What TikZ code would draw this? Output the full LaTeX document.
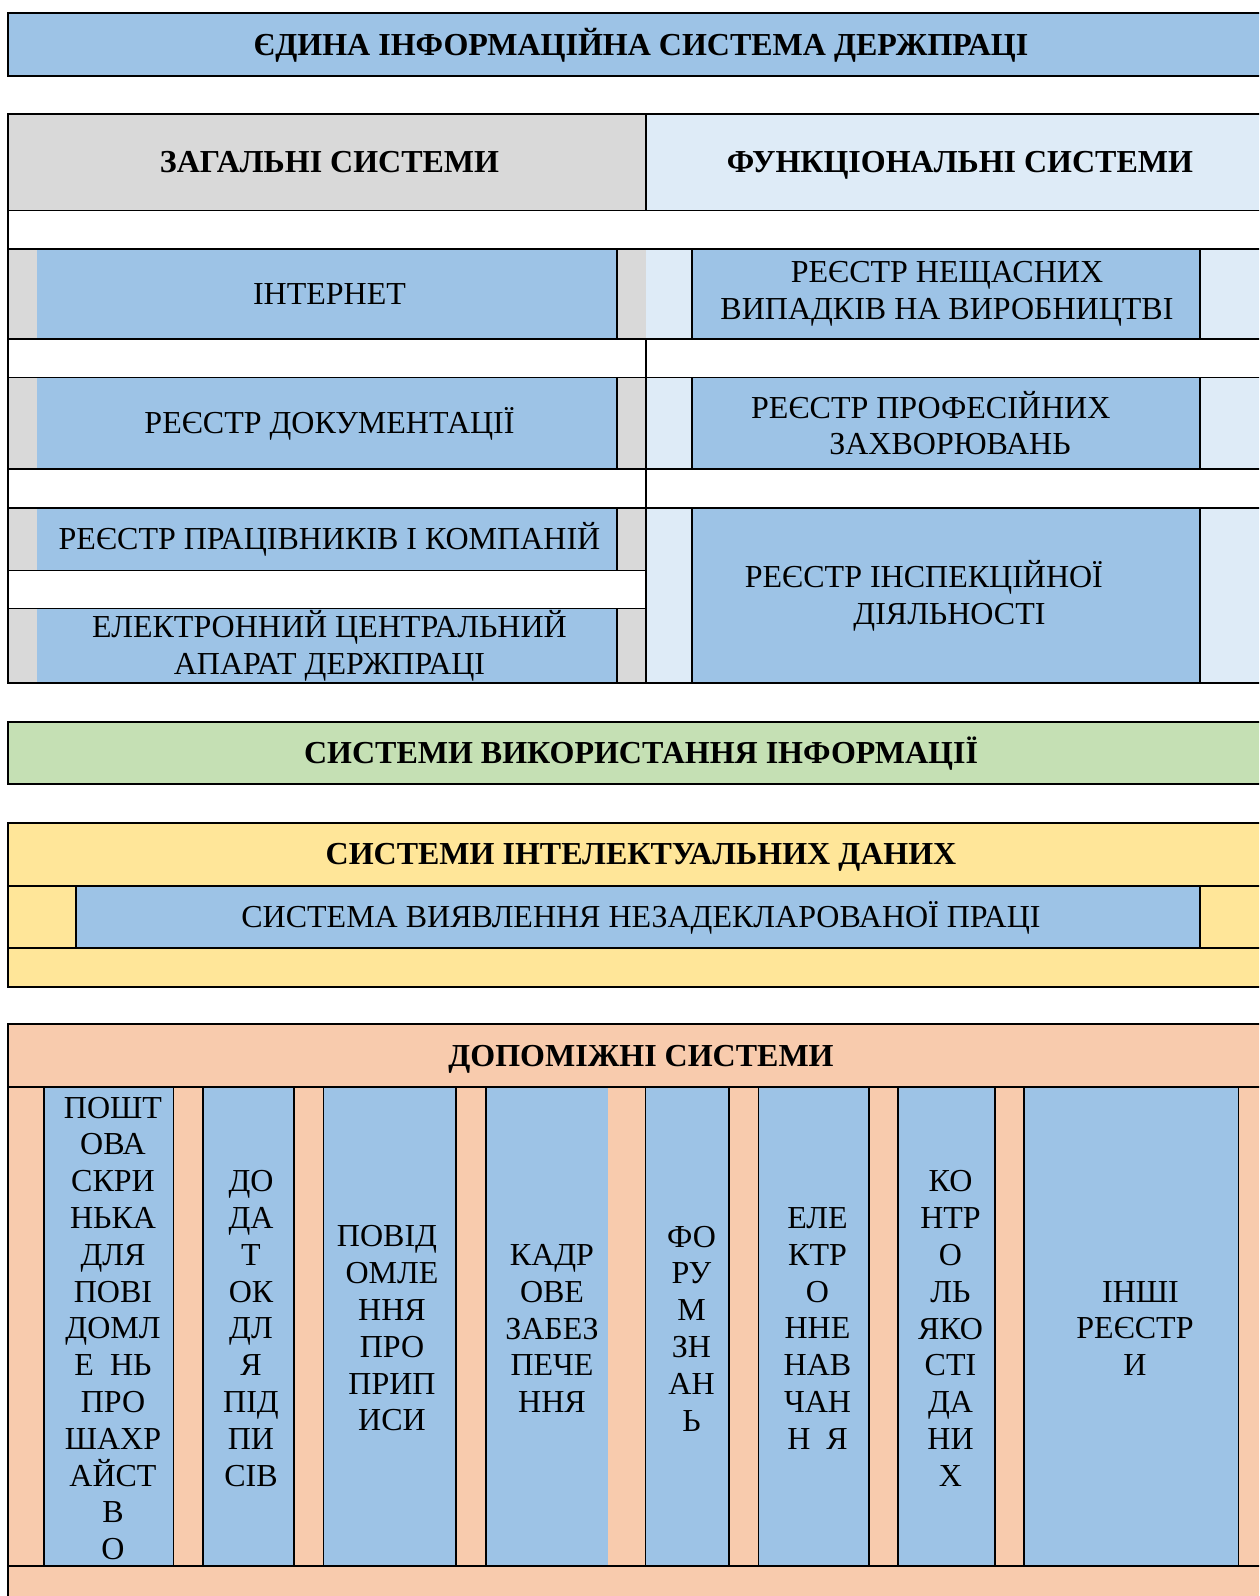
\documentclass[tikz,border=0pt]{standalone}
\usepackage{fontspec}
\setmainfont{Liberation Serif}

\definecolor{regblue}{HTML}{9DC3E6}
\definecolor{gengray}{HTML}{D9D9D9}
\definecolor{funcblue}{HTML}{DEEBF7}
\definecolor{usegreen}{HTML}{C5E0B4}
\definecolor{intyellow}{HTML}{FFE699}
\definecolor{auxpeach}{HTML}{F8CBAD}

\tikzset{
  heading/.style={font=\fontsize{32}{36.8}\selectfont\bfseries, align=center, inner sep=0pt},
  entry/.style={font=\fontsize{32}{36.8}\selectfont, align=center, inner sep=0pt},
  oneline/.style={text height=21.2pt, text depth=0pt},
  border/.style={line width=2pt},
  inner/.style={line width=1.6pt},
}

\begin{document}
\begin{tikzpicture}[x=1pt, y=-1pt]
    \clip (0,0) rectangle (1259,1596);
    \fill[white] (0,0) rectangle (1259,1596);

    % top title
    \draw[border, fill=regblue] (7.5,12.7) rectangle (1275,76);
    \node[heading, oneline] (edyna) at (641,44.5) {ЄДИНА ІНФОРМАЦІЙНА СИСТЕМА ДЕРЖПРАЦІ};

    % general and functional systems
    \fill[gengray] (7.5,114) rectangle (645.7,210.5);
    \fill[funcblue] (645.7,114) rectangle (1275,210.5);
    \foreach \ya/\yb in {249/339, 377.5/469, 508/570.5, 608.5/683.3} {
        \fill[gengray] (7.5,\ya) rectangle (645.7,\yb);
        \fill[regblue] (36.7,\ya) rectangle (616.7,\yb);
        \draw[inner] (616.7,\ya) -- (616.7,\yb);
    }
    \foreach \ya/\yb in {249/339, 377.5/469, 508/683.3} {
        \fill[funcblue] (645.7,\ya) rectangle (1275,\yb);
        \fill[regblue] (691.7,\ya) rectangle (1200,\yb);
        \draw[inner] (691.7,\ya) -- (691.7,\yb) (1200,\ya) -- (1200,\yb);
    }
    \foreach \y in {210.5, 249, 339, 377.5, 469, 508}
        \draw[inner] (7.5,\y) -- (1275,\y);
    \draw[inner] (7.5,570.5) -- (645.7,570.5) (7.5,608.5) -- (645.7,608.5);
    \draw[inner] (645.7,114) -- (645.7,210.5) (645.7,339) -- (645.7,683.3);
    \draw[border] (7.5,114) rectangle (1275,683.3);

    \node[heading, oneline] (general) at (329.5,162) {ЗАГАЛЬНІ СИСТЕМИ};
    \node[heading, oneline] (functional) at (960,162) {ФУНКЦІОНАЛЬНІ СИСТЕМИ};
    \node[entry, oneline] (internet) at (329.5,294) {ІНТЕРНЕТ};
    \node[entry, oneline] (docreg) at (329.5,423) {РЕЄСТР ДОКУМЕНТАЦІЇ};
    \node[entry, oneline] (staffreg) at (329.5,539) {РЕЄСТР ПРАЦІВНИКІВ І КОМПАНІЙ};
    \node[entry] (ecentral) at (329.5,646) {ЕЛЕКТРОННИЙ ЦЕНТРАЛЬНИЙ\\АПАРАТ ДЕРЖПРАЦІ};
    \node[entry] (accidentreg) at (947,294) {РЕЄСТР НЕЩАСНИХ\\ВИПАДКІВ НА ВИРОБНИЦТВІ};
    \node[entry] (diseasereg) at (950,423) {РЕЄСТР ПРОФЕСІЙНИХ\hspace*{1.2em}\\ЗАХВОРЮВАНЬ};
    \node[entry] (inspectreg) at (949.5,595.6) {РЕЄСТР ІНСПЕКЦІЙНОЇ\hspace*{1.6em}\\ДІЯЛЬНОСТІ};

    % information use
    \draw[border, fill=usegreen] (7.5,722.3) rectangle (1275,784.3);
    \node[heading, oneline] (usage) at (641,753.3) {СИСТЕМИ ВИКОРИСТАННЯ ІНФОРМАЦІЇ};

    % intelligent data
    \fill[intyellow] (7.5,822.7) rectangle (1275,986.7);
    \fill[regblue] (76,886) rectangle (1200,947.7);
    \draw[inner] (7.5,886) -- (1275,886) (7.5,947.7) -- (1275,947.7);
    \draw[inner] (76,886) -- (76,947.7) (1200,886) -- (1200,947.7);
    \draw[border] (7.5,822.7) rectangle (1275,986.7);
    \node[heading, oneline] (intel) at (641,854.3) {СИСТЕМИ ІНТЕЛЕКТУАЛЬНИХ ДАНИХ};
    \node[entry, oneline] (undeclared) at (641,916.8) {СИСТЕМА ВИЯВЛЕННЯ НЕЗАДЕКЛАРОВАНОЇ ПРАЦІ};

    % auxiliary systems
    \fill[auxpeach] (7.5,1024.3) rectangle (1275,1610);
    \foreach \xa/\xb in {43.7/173.3, 202.7/294, 323.3/455.7, 485.7/608.4, 645.3/728.7, 758.3/869, 897.7/995, 1024/1238.6}
        \fill[regblue] (\xa,1086.7) rectangle (\xb,1566);
    \foreach \x in {43.7, 173.3, 202.7, 294, 323.3, 455.7, 485.7, 645.3, 728.7, 758.3, 869, 897.7, 995, 1024, 1238.6}
        \draw[inner] (\x,1086.7) -- (\x,1566);
    \draw[inner] (7.5,1086.7) -- (1275,1086.7) (7.5,1566) -- (1275,1566);
    \draw[border] (7.5,1024.3) rectangle (1275,1610);
    \node[heading, oneline] (auxiliary) at (641,1055.5) {ДОПОМІЖНІ СИСТЕМИ};

    \node[entry] (mailbox) at (113,1328.5) {ПОШТ\\ОВА\\СКРИ\\НЬКА\\ДЛЯ\\ПОВІ\\ДОМЛ\\Е\enspace НЬ\\ПРО\\ШАХР\\АЙСТ\\В\\О};
    \node[entry] (signapp) at (251,1328.5) {ДО\\ДА\\Т\\ОК\\ДЛ\\Я\\ПІД\\ПИ\\СІВ};
    \node[entry] (notices) at (392,1328.5) {ПОВІД\hspace*{10pt}\\ОМЛЕ\\ННЯ\\ПРО\\ПРИП\\ИСИ};
    \node[entry] (staffing) at (552,1328.5) {КАДР\\ОВЕ\\ЗАБЕЗ\\ПЕЧЕ\\ННЯ};
    \node[entry] (forum) at (691.5,1328.5) {ФО\\РУ\\М\\ЗН\\АН\\Ь};
    \node[entry] (elearning) at (817.5,1328.5) {ЕЛЕ\\КТР\\О\\ННЕ\\НАВ\\ЧАН\\Н\enspace Я};
    \node[entry] (quality) at (950.5,1328.5) {КО\\НТР\\О\\ЛЬ\\ЯКО\\СТІ\\ДА\\НИ\\Х};
    \node[entry] (otherreg) at (1135,1328.5) {\hspace*{11pt}ІНШІ\\РЕЄСТР\\И};

\end{tikzpicture}
\end{document}
